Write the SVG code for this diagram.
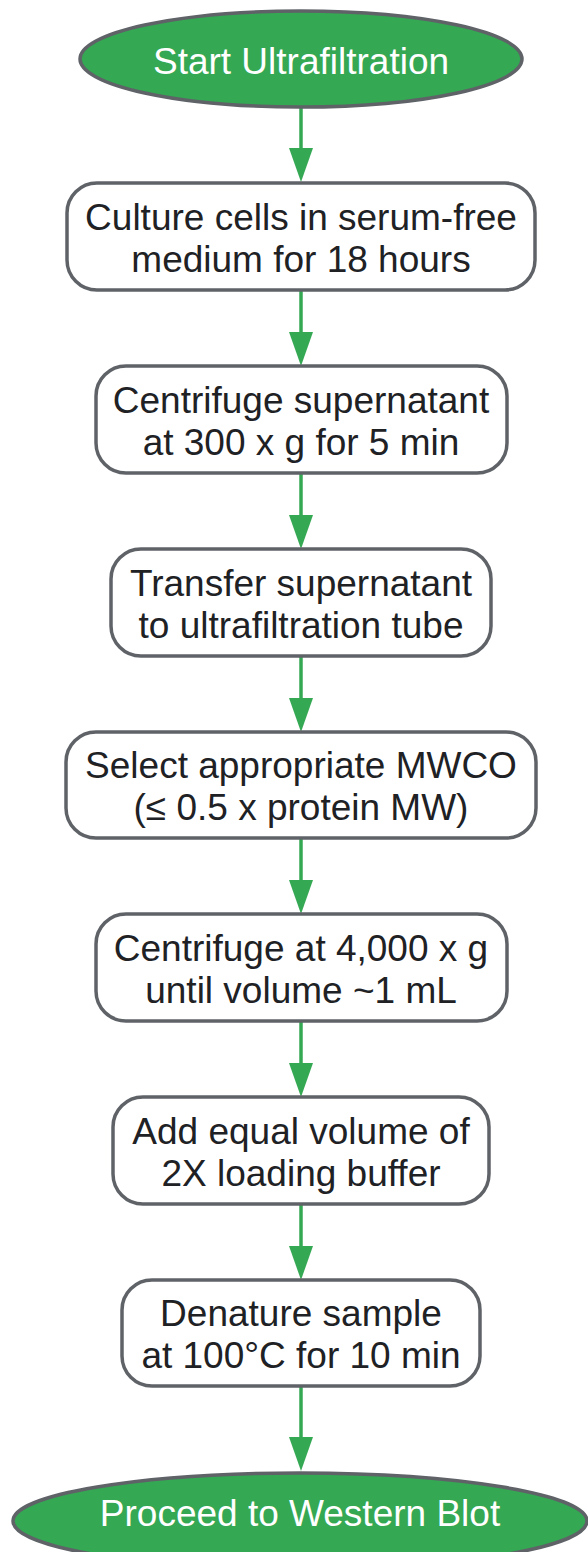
<svg xmlns="http://www.w3.org/2000/svg" width="588" height="1552" viewBox="0 0 588 1552">
<defs>
<style>
.term{fill:#34a853;stroke:#5f6368;stroke-width:3.5}
.box{fill:#ffffff;stroke:#5f6368;stroke-width:3.5}
.tt{font-family:"Liberation Sans",Arial,sans-serif;font-size:37px;fill:#ffffff;text-anchor:middle}
.bt{font-family:"Liberation Sans",Arial,sans-serif;font-size:37px;fill:#202124;text-anchor:middle}
.edge{stroke:#34a853;stroke-width:3.5;fill:none}
</style>
<marker id="ah" markerUnits="userSpaceOnUse" markerWidth="34" markerHeight="24" refX="24" refY="12" viewBox="0 0 34 24" orient="auto">
<path d="M0,0 L34,12 L0,24 Z" fill="#34a853"/>
</marker>
</defs>
<g id="edges">
<line class="edge" x1="301" y1="108" x2="301" y2="172" marker-end="url(#ah)"/>
<line class="edge" x1="301" y1="290" x2="301" y2="356" marker-end="url(#ah)"/>
<line class="edge" x1="301" y1="473" x2="301" y2="539" marker-end="url(#ah)"/>
<line class="edge" x1="301" y1="656" x2="301" y2="722" marker-end="url(#ah)"/>
<line class="edge" x1="301" y1="838" x2="301" y2="904" marker-end="url(#ah)"/>
<line class="edge" x1="301" y1="1021" x2="301" y2="1087" marker-end="url(#ah)"/>
<line class="edge" x1="301" y1="1204" x2="301" y2="1270" marker-end="url(#ah)"/>
<line class="edge" x1="301" y1="1386" x2="301" y2="1461" marker-end="url(#ah)"/>
</g>
<g id="start">
<ellipse class="term" cx="301" cy="59" rx="221" ry="48"/>
<text class="tt" x="301" y="74">Start Ultrafiltration</text>
</g>
<g id="n1">
<rect class="box" x="67" y="183" width="468" height="107" rx="30"/>
<text class="bt" x="301" y="230">Culture cells in serum-free</text>
<text class="bt" x="301" y="272">medium for 18 hours</text>
</g>
<g id="n2">
<rect class="box" x="96" y="366" width="411" height="107" rx="30"/>
<text class="bt" x="301" y="413">Centrifuge supernatant</text>
<text class="bt" x="301" y="455">at 300 x g for 5 min</text>
</g>
<g id="n3">
<rect class="box" x="111" y="549" width="380" height="107" rx="30"/>
<text class="bt" x="301" y="596">Transfer supernatant</text>
<text class="bt" x="301" y="638">to ultrafiltration tube</text>
</g>
<g id="n4">
<rect class="box" x="66" y="732" width="470" height="106" rx="30"/>
<text class="bt" x="301" y="778">Select appropriate MWCO</text>
<text class="bt" x="301" y="820">(≤ 0.5 x protein MW)</text>
</g>
<g id="n5">
<rect class="box" x="96" y="914" width="411" height="107" rx="30"/>
<text class="bt" x="301" y="961">Centrifuge at 4,000 x g</text>
<text class="bt" x="301" y="1003">until volume ~1 mL</text>
</g>
<g id="n6">
<rect class="box" x="113" y="1097" width="376" height="107" rx="30"/>
<text class="bt" x="301" y="1144">Add equal volume of</text>
<text class="bt" x="301" y="1186">2X loading buffer</text>
</g>
<g id="n7">
<rect class="box" x="122" y="1280" width="358" height="106" rx="30"/>
<text class="bt" x="301" y="1326">Denature sample</text>
<text class="bt" x="301" y="1368">at 100°C for 10 min</text>
</g>
<g id="end">
<ellipse class="term" cx="300" cy="1521" rx="287" ry="48"/>
<text class="tt" x="300" y="1526">Proceed to Western Blot</text>
</g>
</svg>
